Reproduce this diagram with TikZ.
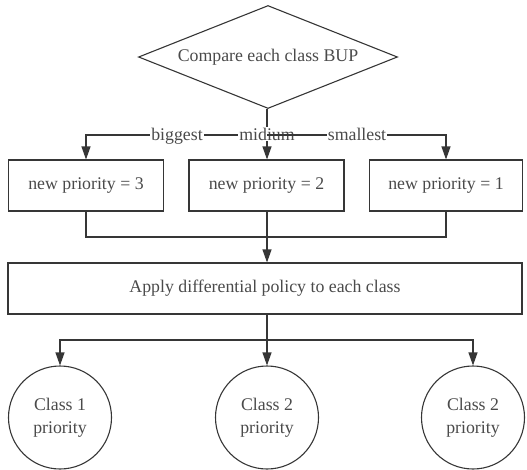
\documentclass[tikz,border=0pt]{standalone}
\usepackage{fontspec}
\setmainfont{Liberation Serif}
\usetikzlibrary{shapes.geometric,arrows.meta}
\definecolor{ink}{HTML}{363636}
\definecolor{txt}{HTML}{4A4A4A}
\begin{document}
\begin{tikzpicture}[x=1pt,y=-1pt,
  every node/.style={font=\fontsize{17.8}{23}\selectfont, text=txt},
  line/.style={draw=ink, line width=1.1pt},
  arrow/.style={line, -{Triangle[length=13pt,width=9pt]}},
  decision/.style={shape=diamond, draw=ink, line width=1.1pt, aspect=2.5, inner sep=0pt,
    minimum width=259pt, minimum height=103pt},
  box/.style={rectangle, draw=ink, line width=1.1pt, minimum height=51pt, inner sep=0pt},
  roundnode/.style={circle, draw=ink, line width=1.1pt, minimum size=103pt, inner sep=0pt, align=center},
  lbl/.style={inner sep=1pt, fill=white, anchor=base}]
\useasboundingbox (0,0) rectangle (527,469);

% decision and the three priority boxes
\node[decision] (cmp) at (268,57) {Compare each class BUP};
\node[box, minimum width=155pt] (b1) at (86,185.5) {new priority = 3};
\node[box, minimum width=155pt] (b2) at (266.5,185.5) {new priority = 2};
\node[box, minimum width=153pt] (b3) at (446,185.5) {new priority = 1};

% policy box and the class circles
\node[box, minimum width=514pt] (app) at (265,288.5) {Apply differential policy to each class};
\node[roundnode] (c1) at (60,417.5) {Class 1\\priority};
\node[roundnode] (c2) at (267,417.5) {Class 2\\priority};
\node[roundnode] (c3) at (473,417.5) {Class 2\\priority};

% junction points on the central axis
\coordinate (j1) at (267,135);
\coordinate (j2) at (267,237);
\coordinate (j3) at (267,340);

% branch from the decision to the left and middle boxes
\draw[line] (j1 |- cmp.south) -- (j1);
\draw[arrow] (j1) -| (b1.north);
\draw[arrow] (j1) -- (j1 |- b2.north);
\node[lbl] (lbig) at (177,140) {biggest};
\node[lbl] (lmid) at (267,140) {midium};
% right branch runs over the middle label
\draw[arrow] (j1) -| (b3.north);
\node[lbl] (lsmall) at (357,140) {smallest};

% merge into the policy box
\draw[line] (b1.south) |- (j2);
\draw[line] (b3.south) |- (j2);
\draw[arrow] (j2 |- b2.south) -- (j2 |- app.north);

% distribute to the classes
\draw[arrow] (j3 |- app.south) -- (c2.north);
\draw[arrow] (j3) -| (c1.north);
\draw[arrow] (j3) -| (c3.north);
\end{tikzpicture}
\end{document}
